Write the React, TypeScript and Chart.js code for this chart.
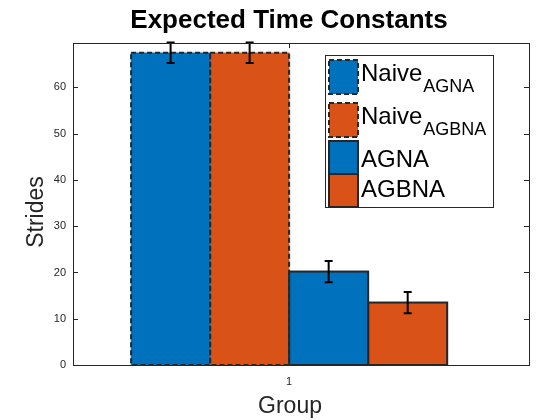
import React, { useEffect, useRef } from 'react';
import { Chart, registerables } from 'chart.js';

Chart.register(...registerables);

const seriesNames = ['Naive', 'Naive', 'AGNA', 'AGBNA'];
const seriesSubs = ['AGNA', 'AGBNA', '', ''];
const positions = [0.7, 0.9, 1.1, 1.3];
const means = [67.5, 67.5, 20.2, 13.5];
const errors = [2.2, 2.2, 2.3, 2.3];
const dashed = [true, true, false, false];
const colors = ['#0072BD', '#D95319', '#0072BD', '#D95319'];
const yTicks = [0, 10, 20, 30, 40, 50, 60];
const FONT = '"Liberation Sans", Arial, sans-serif';

const overlay = {
  id: 'overlay',
  afterDatasetsDraw(chart: any) {
    const { ctx, chartArea: a, scales } = chart;
    const y = scales.y;
    ctx.save();
    // dashed outlines and error bars
    chart.data.datasets.forEach((ds: any, i: number) => {
      const el = chart.getDatasetMeta(i).data[0];
      if (!el) return;
      const w = el.width;
      ctx.strokeStyle = '#262626';
      ctx.lineWidth = 2;
      ctx.setLineDash(dashed[i] ? [5, 3] : []);
      ctx.strokeRect(el.x - w / 2, el.y, w, el.base - el.y);
      ctx.setLineDash([]);
      ctx.strokeStyle = '#000';
      const t = y.getPixelForValue(means[i] + errors[i]);
      const b = y.getPixelForValue(means[i] - errors[i]);
      ctx.beginPath();
      ctx.moveTo(el.x, t); ctx.lineTo(el.x, b);
      ctx.moveTo(el.x - 4, t); ctx.lineTo(el.x + 4, t);
      ctx.moveTo(el.x - 4, b); ctx.lineTo(el.x + 4, b);
      ctx.stroke();
    });
    // axes box
    ctx.strokeStyle = '#262626';
    ctx.lineWidth = 1;
    ctx.strokeRect(a.left + 0.5, a.top + 0.5, a.right - a.left, a.bottom - a.top);
    ctx.beginPath();
    yTicks.forEach((v) => {
      const py = Math.round(y.getPixelForValue(v)) + 0.5;
      ctx.moveTo(a.left, py); ctx.lineTo(a.left + 5, py);
      ctx.moveTo(a.right, py); ctx.lineTo(a.right - 5, py);
    });
    const px = Math.round(scales.x.getPixelForValue(1)) + 0.5;
    ctx.moveTo(px, a.bottom); ctx.lineTo(px, a.bottom - 5);
    ctx.moveTo(px, a.top); ctx.lineTo(px, a.top + 5);
    ctx.stroke();
    // titles
    ctx.fillStyle = '#000';
    ctx.textAlign = 'center';
    ctx.textBaseline = 'alphabetic';
    ctx.font = `bold 26px ${FONT}`;
    ctx.fillText('Expected Time Constants', 289, 28);
    ctx.fillStyle = '#262626';
    ctx.font = `23px ${FONT}`;
    ctx.fillText('Group', 290, 413);
    ctx.save();
    ctx.translate(43, 212);
    ctx.rotate(-Math.PI / 2);
    ctx.fillText('Strides', 0, 0);
    ctx.restore();
    // legend
    const lx = 325, ly = 55, lw = 168, lh = 152;
    ctx.fillStyle = '#fff';
    ctx.fillRect(lx, ly, lw, lh);
    ctx.strokeStyle = '#262626';
    ctx.lineWidth = 1;
    ctx.strokeRect(lx + 0.5, ly + 0.5, lw, lh);
    const boxTop = [60, 103, 141, 174];
    const boxH = [34, 34, 33, 33];
    const baseY = [81, 124, 167, 197];
    seriesNames.forEach((n, i) => {
      ctx.fillStyle = colors[i];
      ctx.fillRect(329, boxTop[i], 29, boxH[i]);
      ctx.strokeStyle = '#262626';
      ctx.lineWidth = 2;
      ctx.setLineDash(dashed[i] ? [5, 3] : []);
      ctx.strokeRect(329, boxTop[i], 29, boxH[i]);
      ctx.setLineDash([]);
      ctx.fillStyle = '#000';
      ctx.textAlign = 'left';
      ctx.font = `24px ${FONT}`;
      ctx.fillText(n, 361, baseY[i]);
      if (seriesSubs[i]) {
        const w = ctx.measureText(n).width;
        ctx.font = `18px ${FONT}`;
        ctx.fillText(seriesSubs[i], 362 + w, baseY[i] + 11);
      }
    });
    ctx.restore();
  },
};

export default function App() {
  const canvasRef = useRef<HTMLCanvasElement>(null);

  useEffect(() => {
    document.body.style.margin = '0';
    if (!canvasRef.current) return;
    const chart = new Chart(canvasRef.current, {
      type: 'bar',
      data: {
        datasets: seriesNames.map((n, i) => ({
          label: n + seriesSubs[i],
          data: [{ x: positions[i], y: means[i] }],
          backgroundColor: colors[i],
          borderWidth: 0,
          barThickness: 79,
          grouped: false,
        })),
      },
      options: {
        animation: false,
        responsive: false,
        layout: { padding: { top: 43, right: 31, left: 0, bottom: 0 } },
        plugins: { legend: { display: false }, tooltip: { enabled: false } },
        scales: {
          x: {
            type: 'linear',
            min: 0.453,
            max: 1.607,
            offset: false,
            grid: { display: false, drawTicks: false },
            border: { display: false },
            afterBuildTicks: (s: any) => { s.ticks = [{ value: 1 }]; },
            afterFit: (s: any) => { s.height = 55; },
            ticks: { padding: 10, color: '#262626', font: { family: FONT, size: 11 } },
          },
          y: {
            min: 0,
            max: 69.6,
            grid: { display: false, drawTicks: false },
            border: { display: false },
            afterBuildTicks: (s: any) => { s.ticks = yTicks.map((v) => ({ value: v })); },
            afterFit: (s: any) => { s.width = 73; },
            ticks: { padding: 7, color: '#262626', font: { family: FONT, size: 11 } },
          },
        },
      },
      plugins: [overlay],
    });
    return () => chart.destroy();
  }, []);

  return <canvas ref={canvasRef} width={560} height={420} style={{ display: 'block' }} />;
}
